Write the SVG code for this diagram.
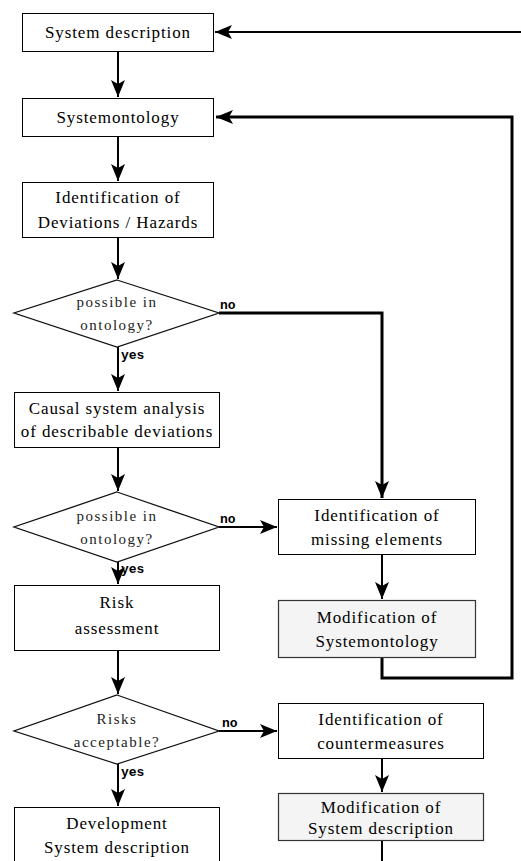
<svg xmlns="http://www.w3.org/2000/svg" width="521" height="861" viewBox="0 0 521 861">
<style>
.box{fill:#fff;stroke:#000;stroke-width:1}
.mod{fill:#f4f4f4;stroke:#333;stroke-width:1.2}
.dia{fill:#fff;stroke:#111;stroke-width:1.3}
.t{font-size:17px;letter-spacing:0.9px;fill:#000;text-anchor:middle}
.td{font-size:15px;letter-spacing:1.5px;fill:#222;text-anchor:middle}
.lb{font-size:13px;font-weight:bold;fill:#000}
.c{fill:none;stroke:#000;stroke-width:2}
.ct{fill:none;stroke:#000;stroke-width:3}
</style>
<defs>
<marker id="ah" markerUnits="userSpaceOnUse" markerWidth="18" markerHeight="14" viewBox="0 0 18 14" refX="17" refY="7" orient="auto">
<path d="M0,0 L17,7 L0,14 L4,7 Z" fill="#000"/>
</marker>
</defs>
<g id="connectors">
<path class="c" d="M521,32 L215,32" marker-end="url(#ah)"/>
<path class="c" d="M118,51 L118,97" marker-end="url(#ah)"/>
<path class="ct" d="M382,657 L382,678 L512,678 L512,117 L216,117" marker-end="url(#ah)"/>
<path class="c" d="M118,136 L118,181" marker-end="url(#ah)"/>
<path class="c" d="M118,237 L118,279" marker-end="url(#ah)"/>
<path class="ct" d="M219,313 L382,313 L382,498" marker-end="url(#ah)"/>
<path class="c" d="M118,347 L118,391" marker-end="url(#ah)"/>
<path class="c" d="M118,447 L118,491" marker-end="url(#ah)"/>
<path class="c" d="M219,527 L277,527" marker-end="url(#ah)"/>
<path class="c" d="M118,562 L118,584" marker-end="url(#ah)"/>
<path class="c" d="M382,554 L382,599" marker-end="url(#ah)"/>
<path class="c" d="M118,650 L118,694" marker-end="url(#ah)"/>
<path class="c" d="M219,731 L277,731" marker-end="url(#ah)"/>
<path class="c" d="M118,764 L118,806" marker-end="url(#ah)"/>
<path class="c" d="M382,758 L382,792" marker-end="url(#ah)"/>
<path class="c" d="M382,840 L382,861"/>
<g font-family="'Liberation Mono', 'Courier New', monospace">
<text class="lb" x="220" y="309">no</text>
<text class="lb" x="121" y="359">yes</text>
<text class="lb" x="220" y="523">no</text>
<text class="lb" x="121" y="573">yes</text>
<text class="lb" x="222" y="727">no</text>
<text class="lb" x="121" y="776">yes</text>
</g>
</g>
<g font-family="'Liberation Serif', 'Times New Roman', Times, serif">
<g id="sysdesc"><rect class="box" x="22.5" y="13.5" width="191" height="38"/><text class="t" x="118" y="38">System description</text></g>
<g id="sysont"><rect class="box" x="22.5" y="98.5" width="191" height="38"/><text class="t" x="118" y="123">Systemontology</text></g>
<g id="identdev"><rect class="box" x="22.5" y="182.5" width="191" height="55"/><text class="t" x="118" y="203">Identification of</text><text class="t" x="118" y="228">Deviations / Hazards</text></g>
<g id="dec1"><polygon class="dia" points="117,280 219,313 117,347 14,313"/><text class="td" x="117" y="307">possible in</text><text class="td" x="117" y="330">ontology?</text></g>
<g id="causal"><rect class="box" x="14.5" y="392.5" width="205" height="55"/><text class="t" x="117" y="414">Causal system analysis</text><text class="t" x="117" y="437">of describable deviations</text></g>
<g id="dec2"><polygon class="dia" points="117,492 219,527 117,562 14,527"/><text class="td" x="117" y="521">possible in</text><text class="td" x="117" y="544">ontology?</text></g>
<g id="risk"><rect class="box" x="14.5" y="585.5" width="205" height="65"/><text class="t" x="117" y="608">Risk</text><text class="t" x="117" y="634">assessment</text></g>
<g id="dec3"><polygon class="dia" points="117,695 219,731 117,764 14,731"/><text class="td" x="117" y="724">Risks</text><text class="td" x="117" y="747">acceptable?</text></g>
<g id="dev"><rect class="box" x="14.5" y="807.5" width="205" height="60"/><text class="t" x="117" y="829">Development</text><text class="t" x="117" y="853">System description</text></g>
<g id="missing"><rect class="box" x="278.5" y="499.5" width="197" height="55"/><text class="t" x="377" y="521">Identification of</text><text class="t" x="377" y="545">missing elements</text></g>
<g id="modont"><rect class="mod" x="278.5" y="600.5" width="197" height="57"/><text class="t" x="377" y="623">Modification of</text><text class="t" x="377" y="647">Systemontology</text></g>
<g id="counter"><rect class="box" x="278.5" y="703.5" width="205" height="55"/><text class="t" x="381" y="725">Identification of</text><text class="t" x="381" y="749">countermeasures</text></g>
<g id="modsys"><rect class="mod" x="278.5" y="793.5" width="205" height="47"/><text class="t" x="381" y="813">Modification of</text><text class="t" x="381" y="834">System description</text></g>
</g>
</svg>
